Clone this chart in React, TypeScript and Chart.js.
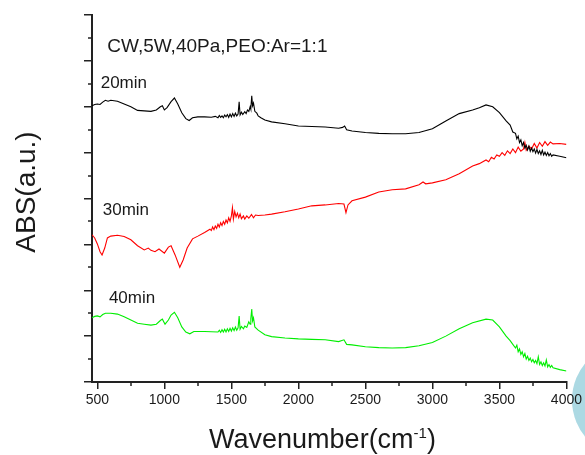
import { useEffect, useRef } from 'react';
import { Chart, registerables } from 'chart.js';

Chart.register(...registerables);

const FONT = '"Liberation Sans", Arial, Helvetica, sans-serif';
const AXIS_COLOR = '#222';
const TEXT_COLOR = '#1a1a1a';

// ---- axis ticks ----
const xMajorTicks = [500, 1000, 1500, 2000, 2500, 3000, 3500, 4000];
const xMinorTicks = [750, 1250, 1750, 2250, 2750, 3250, 3750];
const yMajorTicks = [0, 1, 2, 3, 4, 5, 6, 7, 8];
const yMinorTicks = [0.5, 1.5, 2.5, 3.5, 4.5, 5.5, 6.5, 7.5];

// ---- text ----
const seriesLabels = ['20min', '30min', '40min'];
const conditionLabel = 'CW,5W,40Pa,PEO:Ar=1:1';
const xTitleMain = 'Wavenumber(cm';
const xTitleSup = '-1';
const xTitleEnd = ')';
const yTitle = 'ABS(a.u.)';

// ---- 20 min (black) ----
const wn20 = [
  460, 480, 500, 520, 540, 560, 580, 600, 650, 700, 750, 800, 850, 900, 940, 970, 985, 1000, 1020, 1050,
  1075, 1100, 1130, 1160, 1185, 1210, 1250, 1300, 1350, 1380, 1400, 1410, 1420, 1430, 1440, 1450, 1460, 1470,
  1480, 1490, 1500, 1510, 1520, 1530, 1540, 1550, 1558, 1565, 1575, 1585, 1600, 1610, 1620, 1630, 1640, 1645,
  1652, 1658, 1665, 1675, 1690, 1700, 1720, 1750, 1800, 1900, 2000, 2100, 2200, 2300, 2330, 2345, 2360, 2400,
  2500, 2600, 2700, 2800, 2900, 3000, 3100, 3200, 3300, 3350, 3400, 3450, 3500, 3550, 3580, 3600, 3620, 3630,
  3640, 3650, 3660, 3670, 3680, 3690, 3700, 3710, 3720, 3730, 3740, 3750, 3760, 3770, 3780, 3790, 3800, 3810,
  3820, 3830, 3840, 3850, 3860, 3870, 3880, 3890, 3900, 3950, 4000,
];
const abs20 = [
  6.02, 6.05, 6.06, 6.05, 6.10, 6.14, 6.12, 6.14, 6.12, 6.06, 6.00, 5.92, 5.91, 5.90, 5.93, 6.00, 6.02, 5.93, 5.98, 6.11,
  6.19, 6.06, 5.87, 5.74, 5.70, 5.76, 5.78, 5.78, 5.77, 5.79, 5.76, 5.81, 5.77, 5.80, 5.76, 5.82, 5.78, 5.83,
  5.77, 5.84, 5.78, 5.85, 5.79, 5.86, 5.80, 5.84, 6.11, 5.82, 5.88, 5.83, 5.89, 5.85, 5.93, 5.90, 6.00, 5.95,
  6.24, 6.02, 6.08, 5.90, 5.86, 5.80, 5.76, 5.71, 5.67, 5.63, 5.58, 5.57, 5.56, 5.53, 5.55, 5.58, 5.50, 5.47,
  5.44, 5.42, 5.41, 5.41, 5.44, 5.52, 5.69, 5.85, 5.93, 5.98, 6.04, 6.00, 5.87, 5.69, 5.60, 5.45, 5.42, 5.30,
  5.36, 5.22, 5.28, 5.15, 5.22, 5.10, 5.16, 5.06, 5.14, 5.03, 5.10, 5.02, 5.08, 4.99, 5.07, 4.98, 5.04, 4.96,
  5.05, 4.95, 5.01, 4.94, 5.00, 4.93, 4.98, 4.92, 4.95, 4.92, 4.89,
];

// ---- 30 min (red) ----
const wn30 = [
  460, 480, 500, 520, 535, 555, 575, 600, 650, 700, 750, 800, 850, 880, 900, 930, 960, 1000, 1030, 1050,
  1080, 1115, 1140, 1170, 1210, 1250, 1300, 1340, 1350, 1360, 1370, 1380, 1390, 1400, 1410, 1420, 1430, 1440,
  1450, 1460, 1470, 1480, 1490, 1500, 1508, 1515, 1525, 1535, 1545, 1555, 1565, 1575, 1590, 1600, 1615, 1630,
  1650, 1665, 1680, 1700, 1750, 1800, 1900, 2000, 2100, 2200, 2300, 2340, 2355, 2370, 2400, 2500, 2600, 2700,
  2800, 2900, 2930, 2950, 3000, 3100, 3200, 3300, 3350, 3400, 3420, 3440, 3460, 3480, 3500, 3520, 3540, 3560,
  3580, 3600, 3620, 3640, 3660, 3680, 3690, 3700, 3720, 3740, 3760, 3780, 3800, 3820, 3840, 3860, 3880, 3900,
  3950, 4000,
];
const abs30 = [
  3.21, 3.14, 3.01, 2.84, 2.77, 2.92, 3.14, 3.18, 3.20, 3.17, 3.10, 2.97, 2.88, 2.92, 2.87, 2.84, 2.90, 2.81, 2.94, 2.97,
  2.77, 2.50, 2.66, 2.92, 3.12, 3.18, 3.26, 3.33, 3.30, 3.38, 3.32, 3.40, 3.35, 3.44, 3.38, 3.47, 3.41, 3.50,
  3.44, 3.53, 3.47, 3.58, 3.50, 3.62, 3.80, 3.55, 3.72, 3.60, 3.68, 3.58, 3.66, 3.56, 3.62, 3.55, 3.62, 3.57,
  3.65, 3.58, 3.64, 3.63, 3.64, 3.66, 3.71, 3.77, 3.84, 3.86, 3.89, 3.88, 3.69, 3.86, 3.95, 4.03, 4.14, 4.19,
  4.21, 4.30, 4.36, 4.32, 4.34, 4.41, 4.54, 4.71, 4.76, 4.84, 4.80, 4.90, 4.86, 4.95, 4.92, 5.00, 4.94, 5.04,
  4.98, 5.08, 5.00, 5.12, 5.03, 5.08, 5.22, 5.05, 5.14, 5.08, 5.20, 5.10, 5.22, 5.14, 5.24, 5.16, 5.23, 5.19,
  5.20, 5.18,
];

// ---- 40 min (green) ----
const wn40 = [
  460, 480, 500, 520, 540, 560, 600, 650, 700, 750, 800, 850, 900, 940, 970, 985, 1005, 1030, 1050, 1075,
  1100, 1130, 1160, 1190, 1220, 1300, 1400, 1410, 1420, 1430, 1440, 1450, 1460, 1470, 1480, 1490, 1500, 1510,
  1520, 1530, 1540, 1550, 1558, 1565, 1575, 1590, 1600, 1615, 1630, 1640, 1645, 1652, 1658, 1665, 1675, 1690,
  1700, 1750, 1800, 1900, 2000, 2100, 2200, 2300, 2340, 2360, 2400, 2500, 2600, 2700, 2800, 2900, 3000, 3100,
  3200, 3300, 3400, 3450, 3500, 3550, 3580, 3600, 3620, 3630, 3640, 3650, 3660, 3670, 3680, 3690, 3700, 3710,
  3720, 3730, 3740, 3750, 3760, 3770, 3780, 3790, 3800, 3810, 3820, 3830, 3840, 3850, 3860, 3870, 3880, 3890,
  3900, 3950, 4000,
];
const abs40 = [
  1.40, 1.43, 1.44, 1.42, 1.47, 1.50, 1.50, 1.48, 1.42, 1.35, 1.28, 1.26, 1.24, 1.26, 1.34, 1.37, 1.26, 1.35, 1.46, 1.52,
  1.40, 1.20, 1.09, 1.05, 1.10, 1.10, 1.09, 1.13, 1.08, 1.14, 1.09, 1.15, 1.09, 1.16, 1.10, 1.17, 1.11, 1.18,
  1.12, 1.20, 1.13, 1.18, 1.44, 1.15, 1.21, 1.16, 1.22, 1.19, 1.31, 1.26, 1.38, 1.59, 1.33, 1.40, 1.20, 1.16,
  1.13, 1.03, 0.99, 0.96, 0.94, 0.93, 0.92, 0.88, 0.92, 0.82, 0.81, 0.77, 0.75, 0.74, 0.75, 0.79, 0.86, 1.00,
  1.16, 1.29, 1.37, 1.35, 1.20, 1.00, 0.90, 0.82, 0.74, 0.80, 0.66, 0.72, 0.60, 0.66, 0.55, 0.62, 0.50, 0.56,
  0.47, 0.52, 0.44, 0.49, 0.42, 0.47, 0.40, 0.55, 0.38, 0.44, 0.36, 0.42, 0.35, 0.48, 0.33, 0.38, 0.32, 0.36,
  0.31, 0.27, 0.24,
];

const seriesColors = ['#000000', '#ff0000', '#00ee00'];

// annotation anchors in data units (left edge, baseline)
const labelAnchors = [
  { text: conditionLabel, x: 574, y: 7.2, size: 19 },
  { text: seriesLabels[0], x: 525, y: 6.41, size: 17 },
  { text: seriesLabels[1], x: 540, y: 3.64, size: 17 },
  { text: seriesLabels[2], x: 586, y: 1.72, size: 17 },
];

const toPoints = (xs: number[], ys: number[]) => xs.map((x, i) => ({ x, y: ys[i] }));

const decorPlugin = {
  id: 'decor',
  beforeDraw(chart: any) {
    const ctx = chart.ctx;
    ctx.save();
    ctx.fillStyle = '#ffffff';
    ctx.fillRect(0, 0, chart.width, chart.height);
    ctx.fillStyle = '#acd9e3';
    ctx.beginPath();
    ctx.arc(630, 400, 58, 0, Math.PI * 2);
    ctx.fill();
    ctx.restore();
  },
  afterDraw(chart: any) {
    const ctx = chart.ctx;
    const xs = chart.scales.x;
    const ys = chart.scales.y;
    const area = chart.chartArea;
    ctx.save();
    // minor ticks
    ctx.strokeStyle = AXIS_COLOR;
    ctx.lineWidth = 1.5;
    xMinorTicks.forEach((v) => {
      const px = Math.round(xs.getPixelForValue(v));
      ctx.beginPath();
      ctx.moveTo(px, area.bottom);
      ctx.lineTo(px, area.bottom + 4);
      ctx.stroke();
    });
    yMinorTicks.forEach((v) => {
      const py = Math.round(ys.getPixelForValue(v));
      ctx.beginPath();
      ctx.moveTo(area.left, py);
      ctx.lineTo(area.left - 4, py);
      ctx.stroke();
    });

    // annotations
    ctx.fillStyle = TEXT_COLOR;
    ctx.textAlign = 'left';
    ctx.textBaseline = 'alphabetic';
    labelAnchors.forEach((a) => {
      ctx.font = `${a.size}px ${FONT}`;
      ctx.fillText(a.text, xs.getPixelForValue(a.x), ys.getPixelForValue(a.y));
    });

    // x title with superscript
    const mainSize = 27;
    const supSize = 15;
    ctx.font = `${mainSize}px ${FONT}`;
    const w1 = ctx.measureText(xTitleMain).width;
    const w3 = ctx.measureText(xTitleEnd).width;
    ctx.font = `${supSize}px ${FONT}`;
    const w2 = ctx.measureText(xTitleSup).width;
    const total = w1 + w2 + w3;
    const cx = 322.5;
    const base = 448;
    let sx = cx - total / 2;
    ctx.font = `${mainSize}px ${FONT}`;
    ctx.fillText(xTitleMain, sx, base);
    sx += w1;
    ctx.font = `${supSize}px ${FONT}`;
    ctx.fillText(xTitleSup, sx, base - 10);
    sx += w2;
    ctx.font = `${mainSize}px ${FONT}`;
    ctx.fillText(xTitleEnd, sx, base);

    // y title
    ctx.translate(35, 192);
    ctx.rotate(-Math.PI / 2);
    ctx.textAlign = 'center';
    ctx.font = `28px ${FONT}`;
    ctx.fillText(yTitle, 0, 0);
    ctx.restore();
  },
};

export default function App() {
  const ref = useRef<HTMLCanvasElement | null>(null);
  useEffect(() => {
    if (!ref.current) return;
    const chart = new Chart(ref.current, {
      type: 'line',
      data: {
        datasets: [
          { label: seriesLabels[0], data: toPoints(wn20, abs20), borderColor: seriesColors[0] },
          { label: seriesLabels[1], data: toPoints(wn30, abs30), borderColor: seriesColors[1] },
          { label: seriesLabels[2], data: toPoints(wn40, abs40), borderColor: seriesColors[2] },
        ].map((d) => ({ ...d, borderWidth: 1.1, pointRadius: 0, tension: 0, fill: false })),
      },
      options: {
        animation: false,
        responsive: false,
        devicePixelRatio: 1,
        layout: { padding: { top: 15, right: 16.3, left: 0, bottom: 0 } },
        plugins: { legend: { display: false }, tooltip: { enabled: false }, title: { display: false } },
        scales: {
          x: {
            type: 'linear',
            position: 'bottom',
            min: 460,
            max: 4000,
            afterBuildTicks: (s: any) => {
              s.ticks = xMajorTicks.map((v) => ({ value: v }));
            },
            afterFit: (s: any) => {
              s.height = 73;
            },
            border: { display: true, color: AXIS_COLOR, width: 2 },
            grid: { drawOnChartArea: false, drawTicks: true, tickLength: 7, color: AXIS_COLOR, lineWidth: 1.5 },
            ticks: {
              autoSkip: false,
              maxRotation: 0,
              padding: 3,
              color: TEXT_COLOR,
              font: { family: FONT, size: 14 },
              callback: (v: any) => String(v),
            },
          },
          y: {
            type: 'linear',
            min: 0,
            max: 8,
            afterBuildTicks: (s: any) => {
              s.ticks = yMajorTicks.map((v) => ({ value: v }));
            },
            afterFit: (s: any) => {
              s.width = 92;
            },
            border: { display: true, color: AXIS_COLOR, width: 2 },
            grid: { drawOnChartArea: false, drawTicks: true, tickLength: 8, color: AXIS_COLOR, lineWidth: 1.5 },
            ticks: { display: false },
          },
        },
      },
      plugins: [decorPlugin],
    } as any);
    return () => chart.destroy();
  }, []);
  return (
    <div style={{ position: 'fixed', left: 0, top: 0, width: 585, height: 455 }}>
      <canvas ref={ref} width={585} height={455} style={{ width: 585, height: 455, display: 'block' }} />
    </div>
  );
}
